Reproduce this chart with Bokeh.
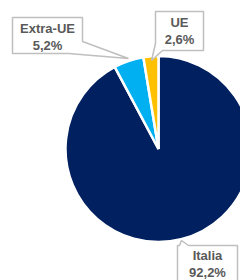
import math
from bokeh.plotting import figure
from bokeh.models import Range1d, ColumnDataSource
from bokeh.core.properties import value
from bokeh.embed import file_html
from bokeh.resources import INLINE

# ---- data ----
categories = ["Italia", "Extra-UE", "UE"]
shares = [92.2, 5.2, 2.6]
colors = ["#002060", "#00B0F0", "#FFC000"]

# ---- layout (page pixels) ----
W, H = 240, 280
cx, cy, R = 158, 148.5, 93

p = figure(width=W, height=H, output_backend="svg", toolbar_location=None,
           x_range=Range1d(0, W), y_range=Range1d(-H, 0), min_border=0)
p.axis.visible = False
p.grid.visible = False
p.outline_line_color = None
p.background_fill_color = "white"
p.border_fill_color = "white"

total = sum(shares)
starts, ends = [], []
acc = 0.0
for s in shares:
    a0 = math.pi / 2 - 2 * math.pi * acc / total
    acc += s
    a1 = math.pi / 2 - 2 * math.pi * acc / total
    starts.append(a0)
    ends.append(a1)

src = ColumnDataSource(dict(start=starts, end=ends, color=colors, cat=categories))
p.wedge(x=cx, y=-cy, radius=R, start_angle="start", end_angle="end", direction="clock",
        fill_color="color", line_color="white", line_width=2.5, source=src)

# ---- callouts ----
def poly(pts):
    return [q[0] for q in pts], [-q[1] for q in pts]

callouts = {
    "Extra-UE": [(12, 17), (82, 17), (82, 41), (128, 58), (68, 53), (12, 53)],
    "UE": [(155, 11), (203, 11), (203, 50), (162, 50), (151, 60), (155, 43)],
    "Italia": [(177, 245), (179, 245), (181, 240), (188, 245), (237, 245), (237, 292), (177, 292)],
}
text_pos = {"Extra-UE": (47, 36.5), "UE": (179, 30.5), "Italia": (207, 263.5)}

for cat, s in zip(categories, shares):
    xs, ys = poly(callouts[cat])
    p.patch(xs, ys, fill_color="white", line_color="#BFBFBF", line_width=1.5)
    tx, ty = text_pos[cat]
    label = f"{cat}\n{s:.1f}".replace(".", ",") + "%"
    p.text(x=[tx], y=[-ty], text=[label], text_align="center", text_baseline="middle",
           text_font=value("Liberation Sans"), text_font_style="bold",
           text_font_size="13px", text_color="#595959", text_line_height=1.1)

open("out.html", "w").write(file_html(p, INLINE))
